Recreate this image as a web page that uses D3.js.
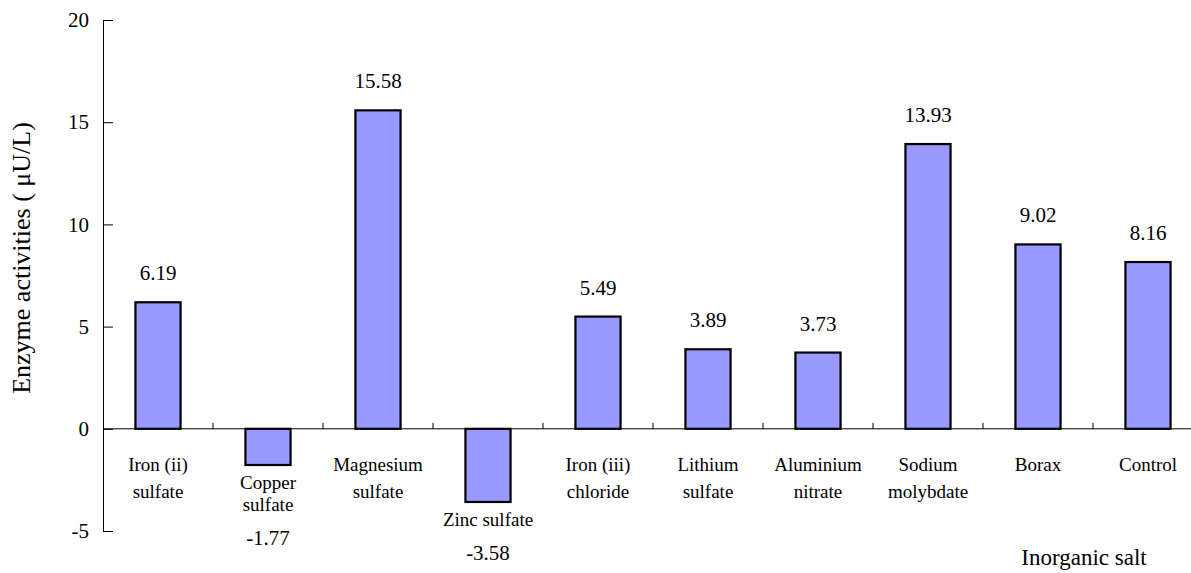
<!DOCTYPE html>
<html><head><meta charset="utf-8">
<script src="https://cdn.jsdelivr.net/npm/d3@7"></script>
<style>body{margin:0;background:#fff}</style>
</head><body>
<svg id="c" width="1191" height="573"></svg>
<script>
const categories = [["Iron (ii)","sulfate"],["Copper","sulfate"],["Magnesium","sulfate"],["Zinc sulfate"],["Iron (iii)","chloride"],["Lithium","sulfate"],["Aluminium","nitrate"],["Sodium","molybdate"],["Borax"],["Control"]];
const values = [6.19,-1.77,15.58,-3.58,5.49,3.89,3.73,13.93,9.02,8.16];
const yTicks = [-5,0,5,10,15,20];
const yTitle = "Enzyme activities ( \u03bcU/L)";
const xTitle = "Inorganic salt";
const FF = "Liberation Serif";

const svg = d3.select("#c");
const keys = categories.map((c,i)=>i);
const x = d3.scaleBand().domain(keys).range([103,1203]).padding(0);
const y = d3.scaleLinear().domain([-5,20]).range([531,20]);
const barW = x.bandwidth()*0.41;

// y axis
const ya = svg.append("g").attr("transform","translate(103,0)")
  .call(d3.axisLeft(y).tickValues(yTicks).tickFormat(d=>String(d)).tickSizeInner(-10).tickSizeOuter(0).tickPadding(14));
ya.attr("font-family",FF);
ya.select(".domain").attr("stroke","#000").attr("stroke-width",1);
ya.selectAll(".tick line").attr("stroke","#000");
ya.selectAll(".tick text").style("font-family",FF).style("font-size","21px").attr("fill","#000").attr("x",-14);

// bars
svg.append("g").selectAll("rect").data(values).join("rect")
  .attr("x",(d,i)=>x(i)+x.bandwidth()/2-barW/2)
  .attr("y",d=>y(Math.max(0,d)))
  .attr("width",barW)
  .attr("height",d=>Math.abs(y(d)-y(0)))
  .attr("fill","#9999FF").attr("stroke","#000").attr("stroke-width",2.2);

// x axis line at zero
svg.append("line").attr("x1",103).attr("x2",1191).attr("y1",y(0)).attr("y2",y(0)).attr("stroke","#000").attr("stroke-width",1);
svg.append("g").selectAll("line").data(keys.slice(1)).join("line")
  .attr("x1",d=>x(d)).attr("x2",d=>x(d)).attr("y1",y(0)).attr("y2",y(0)-6).attr("stroke","#000");

// category labels
const cl = svg.append("g").attr("text-anchor","middle").attr("fill","#000");
categories.forEach((lines,i)=>{
  const v = values[i];
  const cx = x(i)+x.bandwidth()/2;
  const base = v<0 ? y(v)+24 : y(0)+42;
  const gap = v<0 ? 22 : 27;
  lines.forEach((t,j)=>cl.append("text").attr("x",cx).attr("y",base+j*gap)
    .style("font-family",FF).style("font-size","19px").text(t));
});

// value labels
const vl = svg.append("g").attr("text-anchor","middle").attr("fill","#000");
values.forEach((v,i)=>{
  const cx = x(i)+x.bandwidth()/2;
  let yy;
  if (v>=0) yy = y(v)-22;
  else yy = y(v)+24+(categories[i].length-1)*22+34;
  vl.append("text").attr("x",cx).attr("y",yy).style("font-family",FF).style("font-size","21px").text(v.toFixed(2));
});

// titles
svg.append("text").attr("transform","translate(30,258) rotate(-90)").attr("text-anchor","middle")
  .style("font-family",FF).style("font-size","26px").attr("fill","#000").text(yTitle);
svg.append("text").attr("x",1084).attr("y",565).attr("text-anchor","middle")
  .style("font-family",FF).style("font-size","23px").attr("fill","#000").text(xTitle);
</script>
</body></html>
